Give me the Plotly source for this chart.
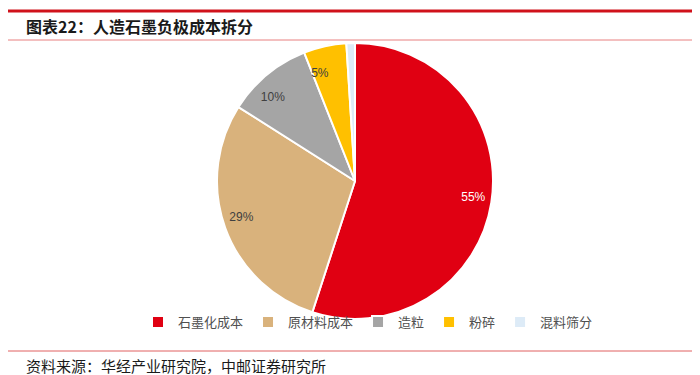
import plotly.graph_objects as go

labels = ["石墨化成本", "原材料成本", "造粒", "粉碎", "混料筛分"]
values = [55, 29, 10, 5, 1]
text_labels = ["55%", "29%", "10%", "5%", ""]
colors = ["#E00012", "#D9B27C", "#A5A5A5", "#FFC000", "#DDEBF7"]
text_colors = ["#FFFFFF", "#404040", "#404040", "#404040", "#404040"]

W, H = 700, 375
cx, cy, R = 347, 173, 138  # domain centre/size (px) chosen to land pie at reference spot
r_lab = 104                 # radius of the invisible label ring

fig = go.Figure()
fig.add_trace(go.Pie(
    labels=labels, values=values, textinfo="none",
    marker=dict(colors=colors, line=dict(color="white", width=2)),
    sort=False, direction="clockwise", rotation=0,
    domain=dict(x=[(cx - R) / W, (cx + R) / W], y=[(H - cy - R) / H, (H - cy + R) / H]),
    hoverinfo="label+percent",
))
# invisible ring carrying the percentage labels, placed further out like the reference
fig.add_trace(go.Pie(
    labels=labels, values=values, text=text_labels,
    texttemplate="%{text}", textposition="outside",
    textfont=dict(color=text_colors, size=12, family="Liberation Sans, Arial"),
    marker=dict(colors=["rgba(0,0,0,0)"] * len(values), line=dict(width=0)),
    sort=False, direction="clockwise", rotation=0, showlegend=False,
    domain=dict(x=[(cx - r_lab) / W, (cx + r_lab) / W], y=[(H - cy - r_lab) / H, (H - cy + r_lab) / H]),
    hoverinfo="skip",
))

font_cjk = "Noto Sans CJK SC"
fig.update_layout(
    width=W, height=H,
    margin=dict(l=0, r=0, t=0, b=0),
    paper_bgcolor="white", plot_bgcolor="white",
    showlegend=True,
    legend=dict(orientation="h", x=360 / W, xanchor="center", y=(H - 314) / H, yanchor="middle",
                bgcolor="rgba(0,0,0,0)",
                font=dict(family=font_cjk, size=13, color="#505050"),
                itemwidth=30, tracegroupgap=0),
    shapes=[
        dict(type="line", xref="paper", yref="paper", x0=0, x1=1, y0=1 - 3 / H, y1=1 - 3 / H,
             line=dict(color="#D0121B", width=3)),
        dict(type="line", xref="paper", yref="paper", x0=0, x1=1, y0=1 - 32 / H, y1=1 - 32 / H,
             line=dict(color="#E88080", width=1)),
        dict(type="line", xref="paper", yref="paper", x0=0, x1=1, y0=1 - 343 / H, y1=1 - 343 / H,
             line=dict(color="#E06060", width=1)),
    ],
    annotations=[
        dict(text="<b>图表22：人造石墨负极成本拆分</b>", xref="paper", yref="paper",
             x=16 / W, y=1 - 18 / H, xanchor="left", yanchor="middle", showarrow=False,
             font=dict(family=font_cjk, size=16, color="#1a1a1a")),
        dict(text="资料来源：华经产业研究院，中邮证券研究所", xref="paper", yref="paper",
             x=16 / W, y=1 - 357 / H, xanchor="left", yanchor="middle", showarrow=False,
             font=dict(family=font_cjk, size=15, color="#1a1a1a")),
    ],
)
fig.write_html("out.html")
